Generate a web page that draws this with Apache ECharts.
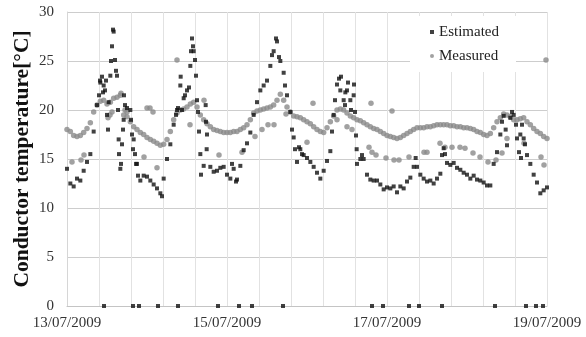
<!DOCTYPE html>
<html>
<head>
<meta charset="utf-8">
<script src="https://cdn.jsdelivr.net/npm/echarts@6/dist/echarts.min.js"></script>
<style>
html, body { margin: 0; padding: 0; background: #fff; }
#ET1 { width: 586px; height: 337px; }
</style>
</head>
<body>
<div id="ET1"></div>
<script>
// hours since 13/07/2009 00:00, one reading per hour (0..144)
var estimatedHourly = [
    14.0, 12.5, 12.2, 13.0, 12.8, 13.8, 14.7, 15.5, 17.8, 20.5, 22.8, 22.5, 19.5, 23.5, 28.0, 23.5, 14.0, 19.0, 20.2, 20.0, 17.0, 14.5, 12.8, 13.3,
    13.2, 12.8, 12.4, 12.0, 11.5, 13.0, 15.0, 16.5, 18.5, 20.0, 22.5, 21.2, 22.0, 24.5, 26.0, 21.0, 15.5, 14.3, 17.5, 14.2, 13.7, 13.8, 14.1, 14.2,
    13.4, 13.0, 14.0, 12.9, 14.3, 15.9, 16.6, 17.7, 19.5, 20.8, 22.0, 22.5, 23.0, 24.5, 26.0, 27.0, 25.0, 23.8, 21.5, 19.8, 17.2, 14.7, 16.0, 15.4,
    15.1, 14.7, 14.2, 13.6, 13.0, 13.8, 14.8, 15.8, 19.5, 22.6, 22.0, 21.0, 22.0, 21.0, 21.5, 14.5, 15.0, 15.0, 13.4, 12.9, 12.8, 12.8, 12.4, 11.9,
    12.1, 12.0, 12.2, 11.6, 12.2, 12.0, 12.7, 13.1, 14.2, 14.2, 13.4, 13.0, 12.7, 12.8, 12.5, 13.0, 13.5, 16.1, 14.6, 14.4, 14.6, 14.1, 13.9, 13.6,
    13.4, 13.0, 13.3, 12.9, 12.8, 12.6, 12.3, 12.3, 14.5, 15.7, 17.5, 19.4, 16.4, 19.2, 19.5, 17.1, 17.5, 17.1, 15.4, 14.5, 13.4, 12.6, 11.5, 11.8, 12.1
];
var measuredHourly = [
    18.0, 17.8, 17.4, 17.3, 17.4, 17.7, 18.1, 18.7, 19.8, 20.5, 20.9, 21.0, 20.6, 20.8, 21.2, 21.3, 21.5, 19.5, 19.3, 18.8, 18.3, 18.0, 17.7, 17.5,
    17.2, 17.0, 16.8, 16.6, 16.4, 16.5, 17.0, 17.8, 19.0, 19.7, 20.0, 20.1, 20.3, 20.6, 20.8, 20.3, 19.5, 19.0, 18.6, 18.3, 18.0, 17.9, 17.8, 17.7,
    17.7, 17.7, 17.8, 17.8, 18.0, 18.2, 18.5, 19.0, 19.7, 19.9, 20.0, 20.1, 20.2, 20.3, 20.5, 21.0, 21.6, 21.0, 20.3, 19.8, 19.4, 19.3, 19.2, 19.0,
    18.8, 18.6, 18.3, 18.0, 17.8, 17.7, 18.2, 18.8, 19.4, 20.0, 20.1, 20.0, 19.7, 19.4, 19.2, 19.0, 18.9, 18.7, 18.5, 18.3, 18.1, 18.0, 17.8, 17.6,
    17.4, 17.3, 17.2, 17.1, 17.2, 17.4, 17.6, 17.8, 18.0, 18.2, 18.2, 18.2, 18.3, 18.3, 18.4, 18.5, 18.5, 18.5, 18.5, 18.4, 18.4, 18.3, 18.3, 18.2,
    18.2, 18.1, 18.0, 17.8, 17.7, 17.5, 17.4, 17.6, 18.2, 18.8, 19.2, 19.6, 19.5, 19.3, 19.0, 19.0, 19.1, 19.2, 18.8, 18.5, 18.1, 17.8, 17.6, 17.3, 17.1
];
// extra readings inside the fast peaks, [hour, temperature]
var estimatedExtra = [
    [9.6, 21.5], [9.9, 23.0], [10.5, 23.4], [10.8, 21.8], [11.4, 22.0], [11.7, 23.0], [12.3, 18.0], [12.5, 20.8],
    [13.2, 25.0], [13.5, 26.5], [13.8, 28.2], [14.4, 25.1], [14.7, 24.0], [15.3, 20.0], [15.5, 17.0], [15.6, 15.5],
    [16.2, 14.5], [16.5, 16.5], [16.8, 18.0], [17.1, 21.5], [17.4, 20.5], [19.2, 19.0], [19.5, 17.5], [19.8, 16.0],
    [20.4, 15.5], [20.7, 14.5], [21.3, 13.3],
    [28.5, 11.2], [32.7, 19.5], [33.3, 20.2], [34.1, 23.4], [34.5, 20.0], [35.4, 21.5], [36.6, 22.3], [37.2, 26.0],
    [37.5, 27.3], [37.8, 26.5], [38.4, 25.1], [38.7, 23.5], [39.3, 19.8], [39.6, 17.8], [40.2, 13.4], [41.6, 20.5],
    [41.7, 18.8], [41.9, 16.0],
    [49.5, 14.5], [50.7, 12.7], [61.5, 25.6], [62.7, 27.3], [63.6, 25.4], [65.4, 22.5], [67.5, 18.0], [68.4, 16.0],
    [69.6, 16.2], [70.5, 15.5],
    [79.5, 17.8], [80.4, 21.0], [81.6, 23.2], [82.2, 23.4], [83.4, 20.5], [83.5, 21.8], [84.3, 22.8], [85.2, 20.0],
    [86.1, 22.6], [86.4, 19.8], [86.7, 17.4], [86.9, 16.0], [88.5, 15.4],
    [104.6, 15.1], [112.5, 15.4], [113.4, 15.5],
    [130.5, 18.8], [131.6, 18.0], [133.5, 19.8], [134.7, 18.5], [135.6, 15.7], [136.2, 15.1], [136.5, 18.5], [137.4, 16.5]
];
var measuredExtra = [
    [1.5, 14.7], [4.2, 14.9], [5.1, 15.4], [12.3, 19.2], [12.9, 19.5], [13.5, 19.8], [16.2, 21.7], [17.4, 20.0],
    [18.0, 19.8], [23.1, 15.2], [24.0, 20.2], [24.9, 20.2], [25.8, 19.8], [27.0, 14.1], [33.0, 25.1], [36.9, 18.5],
    [41.1, 21.0], [45.6, 15.4], [52.5, 15.7], [56.4, 17.3], [58.5, 18.0], [60.3, 18.5], [62.1, 18.5], [65.7, 19.6],
    [72.0, 16.7], [73.8, 20.7], [81.0, 19.0], [84.0, 18.3], [85.5, 18.0], [90.6, 16.2], [91.2, 20.7], [91.5, 15.7],
    [92.7, 15.4], [95.7, 15.1], [97.5, 19.9], [98.1, 14.9], [99.6, 14.9], [102.6, 15.2], [107.1, 15.7], [108.0, 15.7],
    [111.9, 16.6], [113.4, 16.2], [115.5, 16.2], [117.9, 16.2], [119.4, 16.1], [121.8, 15.6], [123.9, 15.2], [126.3, 14.7],
    [128.7, 14.9], [130.5, 15.6], [132.0, 17.1], [137.1, 16.6], [142.2, 15.2], [143.1, 14.4], [143.7, 25.1]
];
// hours where the estimate drops to 0
var estimatedZeroHours = [11.1, 19.8, 21.6, 27.3, 33.3, 45.3, 51.6, 55.5, 64.8, 91.5, 94.8, 102.6, 105.6, 112.5, 128.4, 137.7, 140.7, 142.8];
var xTickDates = ['13/07/2009', '15/07/2009', '17/07/2009', '19/07/2009'];

~function () {
    var myChart = echarts.init(document.getElementById('ET1'));
    var font = 'Liberation Serif, Times New Roman, serif';

    var estData = estimatedHourly.map(function (v, i) { return [i, v]; })
        .concat(estimatedExtra)
        .concat(estimatedZeroHours.map(function (h) { return [h, 0]; }));
    var measData = measuredHourly.map(function (v, i) { return [i, v]; })
        .concat(measuredExtra);

    var option = {
        animation: false,
        grid: {left: 67, right: 39, top: 12, bottom: 31},
        legend: {
            orient: 'vertical',
            left: 410,
            top: 16,
            padding: [8, 17, 8, 20],
            backgroundColor: '#fff',
            itemWidth: 4,
            itemHeight: 4,
            itemGap: 8,
            data: ['Estimated', 'Measured'],
            textStyle: {fontFamily: font, fontSize: 15, color: '#222', lineHeight: 16}
        },
        xAxis: {
            type: 'value',
            min: 0,
            max: 144,
            interval: 9.6,
            axisLine: {lineStyle: {color: '#c4c4c4'}},
            axisTick: {show: false},
            splitLine: {lineStyle: {color: '#e2e2e2'}},
            axisLabel: {
                fontFamily: font,
                fontSize: 15,
                color: '#333',
                margin: 10,
                formatter: function (v) {
                    var k = v / 48;
                    if (Math.abs(k - Math.round(k)) < 1e-3) {
                        return xTickDates[Math.round(k)];
                    }
                    return '';
                }
            }
        },
        yAxis: {
            type: 'value',
            min: 0,
            max: 30,
            interval: 5,
            name: 'Conductor temperature[°C]',
            nameLocation: 'middle',
            nameGap: 34,
            nameMoveOverlap: false,
            nameTextStyle: {fontFamily: font, fontSize: 21.5, fontWeight: 'bold', color: '#111'},
            axisLine: {show: true, lineStyle: {color: '#d6d6d6'}},
            axisTick: {show: false},
            splitLine: {lineStyle: {color: '#cdcdcd'}},
            axisLabel: {fontFamily: font, fontSize: 15, color: '#333', margin: 13}
        },
        series: [
            {
                name: 'Measured',
                type: 'scatter',
                symbol: 'circle',
                symbolSize: 5.5,
                itemStyle: {color: '#8a8a8a'},
                data: measData
            },
            {
                name: 'Estimated',
                type: 'scatter',
                symbol: 'rect',
                symbolSize: 4,
                itemStyle: {color: '#111'},
                data: estData
            }
        ]
    };
    myChart.setOption(option);
}();
</script>
</body>
</html>
